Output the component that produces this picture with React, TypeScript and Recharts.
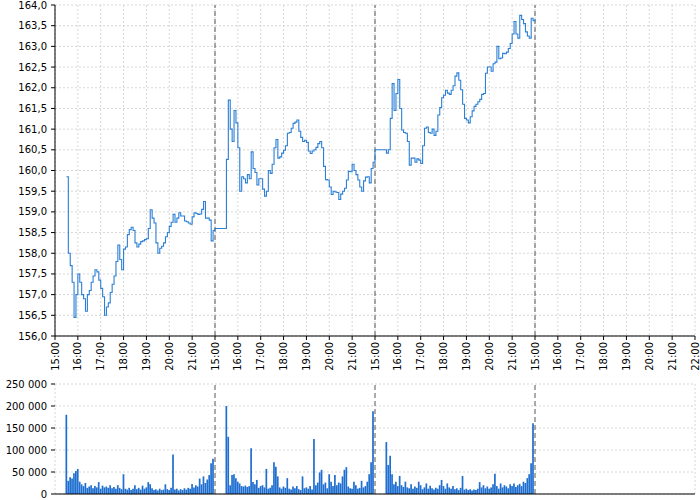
import {
  LineChart,
  Line,
  BarChart,
  Bar,
  XAxis,
  YAxis,
  CartesianGrid,
  ReferenceLine,
} from "recharts";

// x axis is minutes from the first 15:00, four sessions of 7 hours each
const hourTicks = [
  0, 60, 120, 180, 240, 300, 360, 420, 480, 540, 600, 660, 720, 780, 840, 900,
  960, 1020, 1080, 1140, 1200, 1260, 1320, 1380, 1440, 1500, 1560, 1620, 1680,
];
const sessionBreaks = [420, 840, 1260];
const priceTicks = [
  156, 156.5, 157, 157.5, 158, 158.5, 159, 159.5, 160, 160.5, 161, 161.5, 162,
  162.5, 163, 163.5, 164,
];
const volumeTicks = [0, 50000, 100000, 150000, 200000, 250000];

// prices every 5 minutes; day 1 from 15:30, days 2 and 3 from 15:00
const day1Prices = [
  159.85, 158.0, 157.7, 157.3, 156.45, 157.0, 157.5, 157.3, 157.0, 156.9, 156.6, 157.0,
  157.1, 157.3, 157.45, 157.6, 157.55, 157.35, 157.15, 156.95, 156.5, 156.7, 156.8, 157.05,
  157.25, 157.45, 157.8, 158.2, 157.85, 157.6, 158.1, 158.15, 158.45, 158.57, 158.63, 158.55,
  158.25, 158.15, 158.22, 158.28, 158.3, 158.33, 158.35, 158.6, 159.05, 158.85, 158.73, 158.25,
  158.0, 158.12, 158.17, 158.25, 158.4, 158.5, 158.65, 158.75, 158.94, 158.75, 158.85, 158.98,
  158.9, 158.9, 158.78, 158.76, 158.73, 158.7, 158.88, 158.98, 158.96, 158.94, 158.95, 159.06,
  159.25, 158.85, 158.85, 158.8, 158.3, 158.55,
];
const day2Prices = [
  158.6, 158.6, 158.6, 158.6, 158.6, 158.6,
  160.27, 161.7, 161.0, 160.7, 161.45, 161.15,
  160.55, 159.5, 159.85, 159.8, 159.7, 159.9,
  159.8, 160.45, 160.05, 159.95, 159.65, 159.8,
  159.8, 159.55, 159.38, 159.5, 160.0, 159.93,
  160.15, 160.55, 160.75, 160.3, 160.33, 160.42,
  160.49, 160.6, 160.9, 160.92, 161.02, 161.14,
  161.17, 161.22, 160.95, 160.8, 160.7, 160.73,
  160.68, 160.47, 160.41, 160.47, 160.5, 160.56,
  160.65, 160.7, 160.55, 160.1, 159.78, 159.77,
  159.6, 159.42, 159.5, 159.48, 159.47, 159.3,
  159.43, 159.5, 159.57, 159.77, 159.98, 159.97,
  160.15, 160.0, 159.9, 159.77, 159.6, 159.5,
  159.75, 159.84, 159.85, 159.7, 160.05, 160.2,
];
const day3Prices = [
  160.5, 160.5, 160.5, 160.5, 160.5, 160.5,
  160.42, 160.5, 161.26, 162.1, 161.45, 161.86,
  162.2, 161.5, 160.98, 160.92, 160.9, 160.7,
  160.13, 160.3, 160.3, 160.2, 160.28, 160.25,
  160.17, 160.6, 161.02, 161.05, 160.92, 160.9,
  161.0, 160.85, 160.95, 161.34, 161.52, 161.76,
  161.82, 161.94, 161.87, 161.84, 161.94, 162.05,
  162.28, 162.36, 162.18, 161.95, 161.6, 161.26,
  161.22, 161.15, 161.3, 161.44, 161.55, 161.6,
  161.66, 161.72, 161.84, 161.86, 162.35, 162.5,
  162.5, 162.4, 162.58, 162.62, 163.0, 162.7,
  162.72, 162.83, 162.82, 162.86, 162.95, 163.07,
  163.3, 163.6, 163.3, 163.2, 163.75, 163.65,
  163.55, 163.35, 163.25, 163.2, 163.68, 163.62,
];
const lastPrice = 163.65;

// volume every 5 minutes, each session from 15:30
const day1Volume = [
  180000, 30000, 38000, 35000, 47000, 52000, 57000, 28000, 22000, 18000, 25000, 14000,
  17000, 20000, 13000, 18000, 15000, 27000, 12000, 19000, 15000, 17000, 14000, 20000,
  13000, 16000, 12000, 20000, 14000, 11000, 45000, 12000, 10000, 14000, 9000, 12000,
  20000, 11000, 14000, 10000, 19000, 12000, 15000, 27000, 22000, 13000, 9000, 11000,
  8000, 12000, 9000, 10000, 22000, 11000, 9000, 14000, 90000, 10000, 12000, 8000,
  11000, 9000, 13000, 10000, 14000, 12000, 23000, 15000, 20000, 17000, 35000, 22000,
  40000, 25000, 33000, 43000, 70000, 80000,
];
const day2Volume = [
  200000, 130000, 20000, 43000, 45000, 36000, 28000, 24000, 18000, 17000, 19000, 16000,
  18000, 104000, 27000, 22000, 32000, 14000, 18000, 20000, 15000, 57000, 12000, 14000,
  20000, 72000, 62000, 40000, 15000, 12000, 17000, 14000, 36000, 12000, 10000, 17000,
  13000, 18000, 11000, 9000, 40000, 13000, 15000, 12000, 18000, 10000, 125000, 20000,
  26000, 49000, 55000, 22000, 26000, 13000, 45000, 28000, 18000, 43000, 20000, 26000,
  24000, 40000, 55000, 61000, 17000, 13000, 12000, 28000, 20000, 12000, 14000, 30000,
  15000, 18000, 28000, 45000, 72000, 188000,
];
const day3Volume = [
  118000, 66000, 87000, 45000, 22000, 28000, 18000, 41000, 20000, 16000, 28000, 15000,
  13000, 22000, 12000, 17000, 14000, 28000, 20000, 11000, 15000, 24000, 12000, 19000,
  13000, 10000, 14000, 12000, 20000, 32000, 18000, 12000, 24000, 15000, 12000, 18000,
  11000, 13000, 9000, 14000, 41000, 10000, 12000, 9000, 11000, 8000, 10000, 9000,
  12000, 27000, 15000, 20000, 13000, 17000, 12000, 15000, 22000, 46000, 18000, 12000,
  24000, 15000, 20000, 17000, 13000, 22000, 18000, 24000, 16000, 20000, 23000, 18000,
  28000, 25000, 36000, 45000, 70000, 161000,
];

const priceData = [
  ...day1Prices.map((price, i) => ({ t: 30 + i * 5, price })),
  ...day2Prices.map((price, i) => ({ t: 420 + i * 5, price })),
  ...day3Prices.map((price, i) => ({ t: 840 + i * 5, price })),
  { t: 1260, price: lastPrice },
];

const volumeData = [
  ...day1Volume.map((vol, i) => ({ t: 30 + i * 5, vol })),
  ...day2Volume.map((vol, i) => ({ t: 450 + i * 5, vol })),
  ...day3Volume.map((vol, i) => ({ t: 870 + i * 5, vol })),
];

const font = "'DejaVu Sans', sans-serif";
const tickStyle = { fontSize: 10, fill: "#000", fontFamily: font };

const hourLabel = (t: number) =>
  t === 1680 ? "22:00" : `${15 + ((t / 60) % 7)}:00`;

const priceLabel = (v: number) => v.toFixed(1).replace(".", ",");

const volumeLabel = (v: number) =>
  String(v).replace(/\B(?=(\d{3})+(?!\d))/g, " ");

const HourTick = (props: any) => {
  const { x, y, payload } = props;
  return (
    <text
      transform={`translate(${x},${y}) rotate(-90)`}
      textAnchor="end"
      dy="0.35em"
      fontSize={10}
      fontFamily={font}
      fill="#000"
    >
      {hourLabel(payload.value)}
    </text>
  );
};

const App = () => {
  return (
    <div
      style={{
        position: "absolute",
        left: 0,
        top: 0,
        width: 700,
        height: 500,
        background: "#fff",
        fontFamily: font,
      }}
    >
      <LineChart
        width={700}
        height={376}
        data={priceData}
        margin={{ top: 5, right: 5, bottom: 0, left: 0 }}
      >
        <CartesianGrid stroke="#d6d6d6" strokeDasharray="2 2" />
        <XAxis
          dataKey="t"
          type="number"
          domain={[0, 1680]}
          ticks={hourTicks}
          interval={0}
          height={40}
          tick={<HourTick />}
          tickSize={4}
          tickMargin={2}
          stroke="#000"
        />
        <YAxis
          type="number"
          domain={[156, 164]}
          ticks={priceTicks}
          interval={0}
          width={55}
          tickFormatter={priceLabel}
          tick={tickStyle}
          tickSize={4}
          tickMargin={4}
          stroke="#000"
        />
        {sessionBreaks.map((x) => (
          <ReferenceLine key={x} x={x} stroke="#555" strokeDasharray="5 3" />
        ))}
        <Line
          type="stepAfter"
          dataKey="price"
          stroke="#2b7fd6"
          strokeWidth={1.1}
          dot={false}
          isAnimationActive={false}
        />
      </LineChart>
      <BarChart
        width={700}
        height={124}
        data={volumeData}
        margin={{ top: 8, right: 5, bottom: 0, left: 0 }}
      >
        <CartesianGrid stroke="#d6d6d6" strokeDasharray="2 2" />
        <XAxis
          dataKey="t"
          type="number"
          domain={[0, 1680]}
          ticks={hourTicks}
          interval={0}
          height={6}
          tick={false}
          tickLine={false}
          stroke="#000"
        />
        <YAxis
          type="number"
          domain={[0, 250000]}
          ticks={volumeTicks}
          interval={0}
          width={55}
          tickFormatter={volumeLabel}
          tick={tickStyle}
          tickSize={4}
          tickMargin={4}
          axisLine={false}
          tickLine={{ stroke: "#000" }}
        />
        {sessionBreaks.map((x) => (
          <ReferenceLine key={x} x={x} stroke="#555" strokeDasharray="5 3" />
        ))}
        <Bar
          dataKey="vol"
          fill="#1f6fd0"
          barSize={2.5}
          isAnimationActive={false}
        />
      </BarChart>
    </div>
  );
};

export default App;
